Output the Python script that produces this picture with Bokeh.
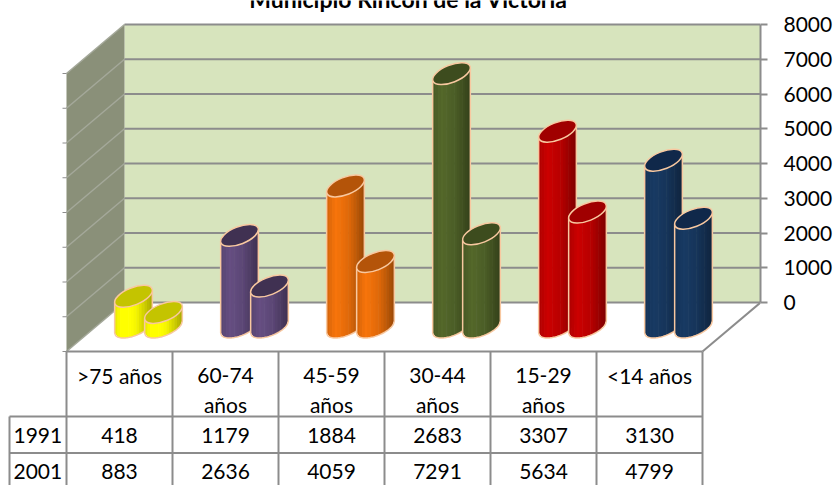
import numpy as np
from bokeh.plotting import figure
from bokeh.models import Range1d, LinearAxis, FixedTicker
from bokeh.core.properties import value
from bokeh.embed import file_html
from bokeh.resources import INLINE

# ---------------- data ----------------
title_text = "Municipio Rincón de la Victoria"
categories = [">75 años", "60-74 años", "45-59 años", "30-44 años", "15-29 años", "<14 años"]
year_labels = ["1991", "2001"]
values_1991 = [418, 1179, 1884, 2683, 3307, 3130]
values_2001 = [883, 2636, 4059, 7291, 5634, 4799]
y_ticks = [0, 1000, 2000, 3000, 4000, 5000, 6000, 7000, 8000]
body_colors = ["#FFFF00", "#604A7B", "#EA6E0A", "#4F6228", "#C00000", "#17375E"]
top_colors = ["#C4C400", "#403152", "#B45409", "#3D4C1E", "#A00000", "#10284A"]

# ---------------- layout (page pixels -> value units) ----------------
W, H = 836, 485
K = 278.0 / 8000.0          # pixels per value unit on the back wall
Y0_PX = 302.0               # page y of value 0 on back wall
TXT_SHIFT = 7.5             # baseline correction of the text glyphs (px)


def V(py):
    return (Y0_PX - py) / K


def VT(py):
    return V(py - TXT_SHIFT)


FRONT_L, FRONT_R = 66.0, 702.0
DEPTH_X, DEPTH_PX = 58.0, 49.0
DV = DEPTH_PX / K
BACK_L, BACK_R = FRONT_L + DEPTH_X, FRONT_R + DEPTH_X
COL_W = (FRONT_R - FRONT_L) / len(categories)
LABEL_L = 9.0
PAIR_GAP = 15.0
BASE_V = -DV / 2.0
DEPTH_SHIFT_X = DEPTH_X / 2.0

FONT = "Lato"
FSIZE = "21px"
GRID = "#8C8C8C"
OUTLINE = "#F8C8A0"

p = figure(width=W, height=H, output_backend="svg", toolbar_location=None,
           x_range=Range1d(0, BACK_R), y_range=Range1d(V(H), V(0)),
           x_axis_location=None, y_axis_location=None, title=None,
           min_border_left=0, min_border_right=W - int(BACK_R),
           min_border_top=0, min_border_bottom=0)
p.outline_line_color = None
p.xgrid.visible = False
p.ygrid.visible = False
p.background_fill_color = "white"
p.border_fill_color = "white"

top_v = y_ticks[-1]
n = len(y_ticks)
# back wall
p.quad(left=[BACK_L], right=[BACK_R], bottom=[y_ticks[0]], top=[top_v],
       fill_color="#D7E4BD", line_color=None)
# side wall
p.patch([FRONT_L, FRONT_L, BACK_L, BACK_L], [y_ticks[0] - DV, top_v - DV, top_v, y_ticks[0]],
        fill_color="#8A9079", line_color=None)
p.segment(x0=[FRONT_L] * n, y0=[t - DV for t in y_ticks], x1=[BACK_L] * n, y1=y_ticks,
          line_color="#A4A89A", line_width=1.5)
p.segment(x0=[FRONT_L - 4] * n, y0=[t - DV for t in y_ticks], x1=[FRONT_L] * n,
          y1=[t - DV for t in y_ticks], line_color=GRID, line_width=1)
p.segment(x0=[BACK_L] * n, y0=y_ticks, x1=[BACK_R] * n, y1=y_ticks,
          line_color=GRID, line_width=2)
# floor right edge
p.segment(x0=[FRONT_R], y0=[-DV], x1=[BACK_R], y1=[0], line_color=GRID, line_width=2)

# value axis on the right
ax = LinearAxis(ticker=FixedTicker(ticks=y_ticks), bounds=(y_ticks[0], y_ticks[-1]))
ax.axis_line_color = GRID
ax.axis_line_width = 2
ax.major_tick_line_color = GRID
ax.major_tick_line_width = 2
ax.major_tick_out = 7
ax.major_tick_in = 0
ax.minor_tick_line_color = None
ax.major_label_text_font = FONT
ax.major_label_text_font_size = FSIZE
ax.major_label_text_color = "black"
ax.major_label_text_align = "left"
ax.major_label_standoff = 16
p.add_layout(ax, "right")

# ---------------- cylinders ----------------
A, B, TH = 20.0, 8.7, 0.38
c, s = np.cos(TH), np.sin(TH)
XM = np.sqrt(A * A * c * c + B * B * s * s)
YT = (A * A - B * B) * s * c / XM


def low_arc(u):
    aq = s * s / (A * A) + c * c / (B * B)
    bq = 2 * u * (c * s / (A * A) - s * c / (B * B))
    cq = u * u * (c * c / (A * A) + s * s / (B * B)) - 1
    disc = np.maximum(bq * bq - 4 * aq * cq, 0)
    return (-bq - np.sqrt(disc)) / (2 * aq)


def shade(hexc, m):
    rgb = [int(hexc[i:i + 2], 16) for i in (1, 3, 5)]
    return "#%02x%02x%02x" % tuple(int(max(0, min(255, round(ch * m)))) for ch in rgb)


NS = 14
edges = np.linspace(-XM, XM, NS + 1)


def draw_series(vals, offset):
    xs, ys, cols = [], [], []
    lx, ly = [], []
    ex, ey, ecol = [], [], []
    for i, v in enumerate(vals):
        cx = FRONT_L + (i + 0.5) * COL_W + DEPTH_SHIFT_X + offset
        tv = BASE_V + v
        for j in range(NS):
            u1 = edges[j]
            u2 = min(edges[j + 1] + 0.6, XM)
            t = ((u1 + u2) / 2 + XM) / (2 * XM)
            m = np.interp(t, [0, 0.25, 0.6, 1.0], [0.9, 1.06, 0.95, 0.66])
            xs.append([cx + u1, cx + u2, cx + u2, cx + u1])
            ys.append([tv + YT * u1 / XM / K, tv + YT * u2 / XM / K,
                       BASE_V + low_arc(u2) / K, BASE_V + low_arc(u1) / K])
            cols.append(shade(body_colors[i], m))
        us = np.linspace(-XM, XM, 40)
        ox = [cx - XM] + list(cx + us) + [cx + XM]
        oy = [tv - YT / K] + list(BASE_V + low_arc(us) / K) + [tv + YT / K]
        lx.append(ox)
        ly.append(oy)
        ex.append(cx)
        ey.append(tv)
        ecol.append(top_colors[i])
    p.patches(xs, ys, fill_color=cols, line_color=None)
    p.multi_line(lx, ly, line_color=OUTLINE, line_width=1.5)
    p.ellipse(x=ex, y=ey, width=2 * A, height=2 * B, angle=TH,
              width_units="screen", height_units="screen",
              fill_color=ecol, line_color=OUTLINE, line_width=1.5)


draw_series(values_2001, -PAIR_GAP)
draw_series(values_1991, PAIR_GAP)

# ---------------- data table ----------------
ROW_PX = [351.0, 416.0, 452.5]
TABLE_BOTTOM = V(H + 10)
p.segment(x0=[FRONT_L, LABEL_L, LABEL_L], y0=[V(r) for r in ROW_PX],
          x1=[FRONT_R] * 3, y1=[V(r) for r in ROW_PX], line_color=GRID, line_width=2)
vx = [FRONT_L + i * COL_W for i in range(len(categories) + 1)]
p.segment(x0=vx, y0=[V(ROW_PX[0])] * len(vx), x1=vx, y1=[TABLE_BOTTOM] * len(vx),
          line_color=GRID, line_width=2)
p.segment(x0=[LABEL_L], y0=[V(ROW_PX[1])], x1=[LABEL_L], y1=[TABLE_BOTTOM],
          line_color=GRID, line_width=2)

hx, hy, ht = [], [], []
for i, lab in enumerate(categories):
    lines = lab.split(" ", 1) if lab[0].isdigit() else [lab]
    for k, ln in enumerate(lines):
        hx.append(FRONT_L + (i + 0.5) * COL_W)
        hy.append(VT(382 + 29.5 * k))
        ht.append(ln)
p.text(x=hx, y=hy, text=ht, text_align="center", text_baseline="alphabetic",
       text_font=value(FONT), text_font_size=FSIZE, text_color="black")

row_base = [VT(442.5), VT(478.0)]
p.text(x=[LABEL_L + 4] * 2, y=row_base, text=year_labels, text_align="left",
       text_baseline="alphabetic", text_font=value(FONT), text_font_size=FSIZE,
       text_color="black")
tx, ty, tt = [], [], []
for r, vals in enumerate([values_1991, values_2001]):
    for i, v in enumerate(vals):
        tx.append(FRONT_L + (i + 0.5) * COL_W)
        ty.append(row_base[r])
        tt.append(str(v))
p.text(x=tx, y=ty, text=tt, text_align="center", text_baseline="alphabetic",
       text_font=value(FONT), text_font_size=FSIZE, text_color="black")

# title (cut at the top edge as in the original picture)
p.text(x=[(BACK_L + BACK_R) / 2 - 34], y=[VT(6)], text=[title_text], text_align="center",
       text_baseline="alphabetic", text_font=value(FONT), text_font_size="23px",
       text_font_style="bold", text_color="black")

open("out.html", "w").write(file_html(p, INLINE))
